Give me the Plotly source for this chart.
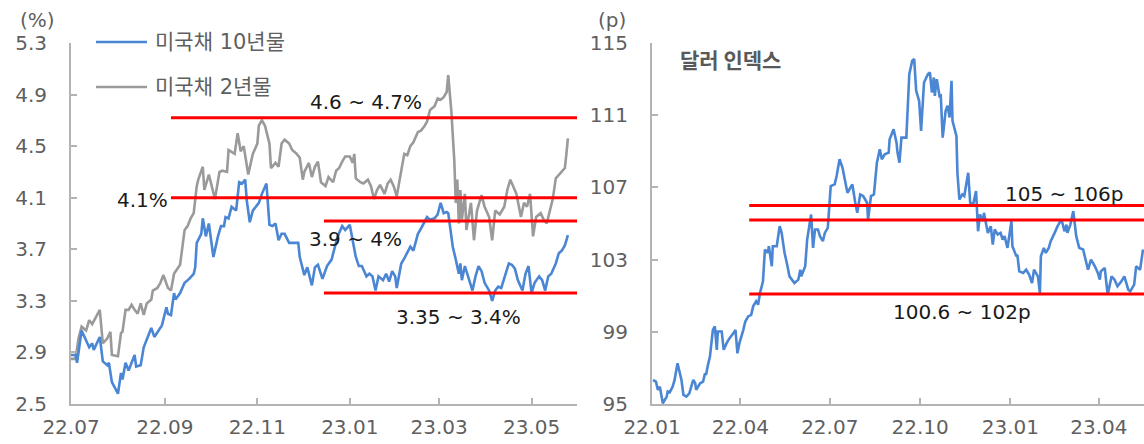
import plotly.graph_objects as go

W, H = 1144, 444

# 미국채 10년물 (%)
ust10_dates = [
    "2022-07-01", "2022-07-04", "2022-07-05", "2022-07-08", "2022-07-13", "2022-07-15",
    "2022-07-16", "2022-07-20", "2022-07-22", "2022-07-25", "2022-07-26", "2022-07-28",
    "2022-08-01", "2022-08-03", "2022-08-04", "2022-08-06", "2022-08-08", "2022-08-12",
    "2022-08-13", "2022-08-16", "2022-08-18", "2022-08-20", "2022-08-23", "2022-08-25",
    "2022-08-28", "2022-08-30", "2022-09-02", "2022-09-03", "2022-09-05", "2022-09-07",
    "2022-09-08", "2022-09-11", "2022-09-14", "2022-09-17", "2022-09-20", "2022-09-21",
    "2022-09-22", "2022-09-25", "2022-09-26", "2022-09-28", "2022-09-30", "2022-10-03",
    "2022-10-06", "2022-10-08", "2022-10-10", "2022-10-11", "2022-10-13", "2022-10-15",
    "2022-10-18", "2022-10-20", "2022-10-22", "2022-10-24", "2022-10-25", "2022-10-27",
    "2022-10-29", "2022-10-31", "2022-11-02", "2022-11-04", "2022-11-07", "2022-11-09",
    "2022-11-11", "2022-11-13", "2022-11-15", "2022-11-17", "2022-11-19", "2022-11-22",
    "2022-11-24", "2022-11-28", "2022-11-29", "2022-12-02", "2022-12-04", "2022-12-05",
    "2022-12-07", "2022-12-09", "2022-12-11", "2022-12-14", "2022-12-17", "2022-12-20",
    "2022-12-22", "2022-12-24", "2022-12-27", "2022-12-29", "2023-01-01", "2023-01-03",
    "2023-01-05", "2023-01-07", "2023-01-09", "2023-01-12", "2023-01-14", "2023-01-16",
    "2023-01-18", "2023-01-20", "2023-01-23", "2023-01-25", "2023-01-27", "2023-01-29",
    "2023-01-31", "2023-02-01", "2023-02-04", "2023-02-06", "2023-02-08", "2023-02-10",
    "2023-02-12", "2023-02-15", "2023-02-17", "2023-02-19", "2023-02-21", "2023-02-23",
    "2023-02-26", "2023-02-28", "2023-03-02", "2023-03-04", "2023-03-06", "2023-03-07",
    "2023-03-10", "2023-03-12", "2023-03-14", "2023-03-15", "2023-03-16", "2023-03-18",
    "2023-03-21", "2023-03-23", "2023-03-25", "2023-03-27", "2023-03-29", "2023-03-31",
    "2023-04-03", "2023-04-05", "2023-04-07", "2023-04-09", "2023-04-11", "2023-04-14",
    "2023-04-16", "2023-04-18", "2023-04-20", "2023-04-22", "2023-04-25", "2023-04-27",
    "2023-04-29", "2023-05-01", "2023-05-03", "2023-05-06", "2023-05-08", "2023-05-10",
    "2023-05-12", "2023-05-14", "2023-05-17", "2023-05-19", "2023-05-21", "2023-05-23",
    "2023-05-25",
]
ust10 = [
    2.88, 2.88, 2.82, 3.07, 2.94, 2.97,
    2.92, 3.02, 2.83, 2.80, 2.82, 2.67,
    2.58, 2.74, 2.69, 2.82, 2.76, 2.88,
    2.79, 2.80, 2.94, 3.00, 3.09, 3.02,
    3.07, 3.11, 3.25, 3.20, 3.19, 3.36,
    3.31, 3.36, 3.44, 3.47, 3.51, 3.56,
    3.75, 3.82, 3.94, 3.80, 3.90, 3.64,
    3.80, 3.88, 3.88, 3.95, 3.94, 4.03,
    4.00, 4.22, 4.21, 4.24, 4.08, 3.91,
    4.00, 4.03, 4.06, 4.13, 4.21, 3.89,
    3.88, 3.90, 3.77, 3.82, 3.82, 3.75,
    3.75, 3.75, 3.64, 3.50, 3.56, 3.51,
    3.42, 3.56, 3.58, 3.47, 3.57, 3.62,
    3.72, 3.80, 3.88, 3.85, 3.89, 3.77,
    3.64, 3.57, 3.57, 3.49, 3.51, 3.49,
    3.38, 3.49, 3.46, 3.51, 3.45, 3.53,
    3.49, 3.40, 3.59, 3.63, 3.67, 3.72,
    3.69, 3.82, 3.86, 3.90, 3.95, 3.93,
    3.94, 3.97, 4.06, 3.98, 3.99, 3.98,
    3.72, 3.62, 3.51, 3.59, 3.46, 3.57,
    3.46, 3.38, 3.49, 3.57, 3.53, 3.44,
    3.38, 3.30, 3.38, 3.41, 3.40, 3.51,
    3.59, 3.58, 3.55, 3.46, 3.38, 3.51,
    3.57, 3.36, 3.44, 3.49, 3.46, 3.38,
    3.49, 3.51, 3.59, 3.67, 3.69, 3.73,
    3.81,
]

# 미국채 2년물 (%)
ust2_dates = [
    "2022-07-01", "2022-07-04", "2022-07-06", "2022-07-08", "2022-07-11", "2022-07-13",
    "2022-07-15", "2022-07-17", "2022-07-20", "2022-07-22", "2022-07-25", "2022-07-27",
    "2022-07-28", "2022-08-01", "2022-08-03", "2022-08-04", "2022-08-06", "2022-08-08",
    "2022-08-10", "2022-08-12", "2022-08-14", "2022-08-16", "2022-08-18", "2022-08-20",
    "2022-08-23", "2022-08-24", "2022-08-27", "2022-08-29", "2022-08-31", "2022-09-03",
    "2022-09-05", "2022-09-07", "2022-09-09", "2022-09-11", "2022-09-14", "2022-09-16",
    "2022-09-18", "2022-09-20", "2022-09-22", "2022-09-23", "2022-09-26", "2022-09-27",
    "2022-09-30", "2022-10-02", "2022-10-04", "2022-10-07", "2022-10-09", "2022-10-12",
    "2022-10-13", "2022-10-17", "2022-10-19", "2022-10-21", "2022-10-23", "2022-10-26",
    "2022-10-29", "2022-11-01", "2022-11-02", "2022-11-04", "2022-11-06", "2022-11-09",
    "2022-11-10", "2022-11-13", "2022-11-15", "2022-11-17", "2022-11-19", "2022-11-22",
    "2022-11-24", "2022-11-27", "2022-11-29", "2022-12-01", "2022-12-02", "2022-12-05",
    "2022-12-07", "2022-12-09", "2022-12-11", "2022-12-13", "2022-12-16", "2022-12-18",
    "2022-12-21", "2022-12-23", "2022-12-25", "2022-12-27", "2022-12-29", "2023-01-01",
    "2023-01-03", "2023-01-04", "2023-01-05", "2023-01-08", "2023-01-10", "2023-01-13",
    "2023-01-15", "2023-01-17", "2023-01-19", "2023-01-21", "2023-01-24", "2023-01-26",
    "2023-01-28", "2023-01-30", "2023-02-01", "2023-02-04", "2023-02-06", "2023-02-08",
    "2023-02-10", "2023-02-12", "2023-02-15", "2023-02-17", "2023-02-19", "2023-02-21",
    "2023-02-23", "2023-02-26", "2023-02-28", "2023-03-02", "2023-03-04", "2023-03-06",
    "2023-03-07", "2023-03-09", "2023-03-11", "2023-03-12", "2023-03-13", "2023-03-14",
    "2023-03-15", "2023-03-16", "2023-03-18", "2023-03-19", "2023-03-22", "2023-03-24",
    "2023-03-26", "2023-03-29", "2023-03-31", "2023-04-03", "2023-04-05", "2023-04-07",
    "2023-04-10", "2023-04-13", "2023-04-15", "2023-04-17", "2023-04-19", "2023-04-21",
    "2023-04-24", "2023-04-26", "2023-04-28", "2023-04-30", "2023-05-02", "2023-05-04",
    "2023-05-07", "2023-05-09", "2023-05-11", "2023-05-13", "2023-05-15", "2023-05-17",
    "2023-05-20", "2023-05-23", "2023-05-24", "2023-05-25",
]
ust2 = [
    2.85, 2.85, 3.01, 3.10, 3.07, 3.15,
    3.12, 3.16, 3.23, 2.97, 3.01, 3.06,
    2.88, 2.87, 3.05, 3.06, 3.23, 3.23,
    3.27, 3.23, 3.20, 3.28, 3.19, 3.28,
    3.31, 3.38, 3.40, 3.44, 3.50, 3.40,
    3.38, 3.51, 3.55, 3.58, 3.85, 3.88,
    3.94, 3.98, 4.19, 4.24, 4.34, 4.16,
    4.28, 4.19, 4.09, 4.30, 4.31, 4.30,
    4.47, 4.44, 4.60, 4.46, 4.50, 4.28,
    4.44, 4.52, 4.66, 4.70, 4.66, 4.52,
    4.33, 4.37, 4.34, 4.52, 4.55, 4.52,
    4.47, 4.44, 4.41, 4.24, 4.30, 4.37,
    4.26, 4.34, 4.38, 4.22, 4.19, 4.26,
    4.22, 4.31, 4.33, 4.38, 4.42, 4.42,
    4.37, 4.44, 4.25, 4.22, 4.21, 4.24,
    4.19, 4.09, 4.16, 4.20, 4.13, 4.21,
    4.24, 4.19, 4.11, 4.31, 4.44, 4.43,
    4.50, 4.53, 4.61, 4.62, 4.65, 4.69,
    4.78, 4.81, 4.87, 4.86, 4.88, 4.92,
    5.05, 4.78, 4.39, 4.06, 4.24, 3.90,
    4.16, 3.93, 4.13, 3.85, 4.06, 3.77,
    4.00, 4.12, 4.03, 3.95, 3.77, 4.00,
    3.97, 4.03, 4.16, 4.24, 4.19, 4.13,
    3.95, 4.06, 4.03, 4.13, 3.80, 3.95,
    3.98, 3.93, 3.90, 4.00, 4.09, 4.25,
    4.29, 4.33, 4.44, 4.56,
]

# 달러 인덱스 (p)
dxy_dates = [
    "2022-01-02", "2022-01-05", "2022-01-07", "2022-01-09", "2022-01-12", "2022-01-16",
    "2022-01-17", "2022-01-19", "2022-01-22", "2022-01-24", "2022-01-27", "2022-01-29",
    "2022-01-31", "2022-02-02", "2022-02-05", "2022-02-08", "2022-02-12", "2022-02-14",
    "2022-02-15", "2022-02-19", "2022-02-22", "2022-02-24", "2022-02-25", "2022-02-27",
    "2022-03-01", "2022-03-04", "2022-03-06", "2022-03-08", "2022-03-09", "2022-03-13",
    "2022-03-15", "2022-03-18", "2022-03-21", "2022-03-25", "2022-03-27", "2022-03-29",
    "2022-03-31", "2022-04-04", "2022-04-06", "2022-04-09", "2022-04-12", "2022-04-14",
    "2022-04-17", "2022-04-19", "2022-04-21", "2022-04-24", "2022-04-26", "2022-04-29",
    "2022-04-30", "2022-05-03", "2022-05-04", "2022-05-08", "2022-05-11", "2022-05-13",
    "2022-05-16", "2022-05-19", "2022-05-21", "2022-05-26", "2022-05-30", "2022-06-01",
    "2022-06-02", "2022-06-06", "2022-06-08", "2022-06-12", "2022-06-14", "2022-06-16",
    "2022-06-19", "2022-06-21", "2022-06-24", "2022-06-26", "2022-06-29", "2022-07-02",
    "2022-07-06", "2022-07-08", "2022-07-11", "2022-07-14", "2022-07-16", "2022-07-19",
    "2022-07-22", "2022-07-24", "2022-07-27", "2022-07-29", "2022-08-01", "2022-08-04",
    "2022-08-08", "2022-08-09", "2022-08-12", "2022-08-15", "2022-08-18", "2022-08-21",
    "2022-08-23", "2022-08-26", "2022-08-30", "2022-08-31", "2022-09-04", "2022-09-07",
    "2022-09-08", "2022-09-10", "2022-09-12", "2022-09-17", "2022-09-20", "2022-09-23",
    "2022-09-25", "2022-09-27", "2022-09-30", "2022-10-02", "2022-10-05", "2022-10-09",
    "2022-10-11", "2022-10-13", "2022-10-15", "2022-10-16", "2022-10-18", "2022-10-21",
    "2022-10-22", "2022-10-24", "2022-10-27", "2022-10-29", "2022-10-31", "2022-11-02",
    "2022-11-03", "2022-11-07", "2022-11-08", "2022-11-10", "2022-11-13", "2022-11-15",
    "2022-11-19", "2022-11-21", "2022-11-24", "2022-11-27", "2022-11-29", "2022-12-01",
    "2022-12-04", "2022-12-05", "2022-12-09", "2022-12-12", "2022-12-14", "2022-12-16",
    "2022-12-19", "2022-12-22", "2022-12-24", "2022-12-26", "2022-12-29", "2023-01-02",
    "2023-01-03", "2023-01-07", "2023-01-08", "2023-01-10", "2023-01-14", "2023-01-17",
    "2023-01-20", "2023-01-23", "2023-01-25", "2023-01-29", "2023-01-31", "2023-02-01",
    "2023-02-04", "2023-02-06", "2023-02-09", "2023-02-11", "2023-02-15", "2023-02-18",
    "2023-02-22", "2023-02-25", "2023-02-27", "2023-02-28", "2023-03-03", "2023-03-06",
    "2023-03-09", "2023-03-12", "2023-03-16", "2023-03-19", "2023-03-21", "2023-03-24",
    "2023-03-28", "2023-03-31", "2023-04-02", "2023-04-03", "2023-04-07", "2023-04-10",
    "2023-04-14", "2023-04-17", "2023-04-20", "2023-04-24", "2023-04-27", "2023-05-01",
    "2023-05-03", "2023-05-07", "2023-05-09", "2023-05-13", "2023-05-16",
]
dxy = [
    96.33, 96.24, 95.78, 95.96, 95.04, 95.41,
    95.69, 95.65, 95.96, 96.33, 97.26, 96.70,
    96.33, 95.50, 95.41, 95.59, 96.33, 96.15,
    95.78, 96.15, 96.24, 96.70, 96.61, 97.17,
    97.63, 99.11, 99.30, 98.00, 99.02, 99.02,
    98.00, 98.37, 98.65, 98.93, 99.11, 97.81,
    98.37, 99.11, 99.57, 99.85, 99.94, 100.41,
    100.69, 100.50, 101.15, 101.80, 103.56, 103.37,
    103.74, 102.63, 103.74, 103.74, 104.85, 104.48,
    103.37, 102.63, 102.07, 101.70, 101.89, 102.44,
    102.07, 102.63, 104.11, 105.50, 103.65, 104.67,
    104.67, 104.30, 104.02, 104.48, 104.76, 107.07,
    107.17, 107.63, 108.56, 108.09, 107.44, 106.70,
    106.98, 107.17, 106.15, 105.59, 106.61, 106.52,
    106.15, 105.22, 106.52, 106.61, 108.37, 109.11,
    108.56, 108.83, 108.93, 109.67, 110.22, 109.48,
    108.93, 108.37, 109.76, 109.76, 113.28, 114.02,
    114.11, 112.35, 111.80, 110.13, 112.81, 113.28,
    113.37, 112.26, 113.09, 112.07, 113.00, 111.98,
    112.17, 109.76, 111.24, 111.52, 110.87, 112.91,
    110.69, 109.85, 107.81, 106.33, 106.61, 106.52,
    107.81, 106.15, 106.06, 106.80, 104.57, 105.50,
    105.13, 105.59, 104.48, 104.85, 103.83, 104.67,
    104.39, 104.48, 104.11, 104.30, 103.65, 105.13,
    103.74, 103.19, 103.28, 102.35, 102.26, 102.44,
    102.17, 101.70, 102.44, 102.07, 101.15, 103.19,
    103.65, 103.37, 103.65, 104.02, 104.48, 104.85,
    105.22, 104.57, 104.94, 104.48, 104.94, 105.69,
    104.30, 103.65, 103.56, 102.91, 102.44, 103.00,
    102.63, 102.26, 101.89, 102.35, 102.54, 101.06,
    102.07, 101.89, 101.52, 101.80, 102.07, 101.33,
    101.24, 101.61, 102.63, 102.44, 103.56,
]

# 박스권 기준선
yield_levels = [4.72, 4.10, 3.92, 3.36]
yield_level_starts = ["2022-09-05", "2022-09-05", "2022-12-15", "2022-12-15"]
dxy_levels = [106.0, 105.2, 101.1]
dxy_level_start = "2022-04-10"

left_range = ["2022-07-01", "2023-05-31"]
right_range = ["2022-01-01", "2023-05-17"]
y1_ticks = [2.5, 2.9, 3.3, 3.7, 4.1, 4.5, 4.9, 5.3]
y2_ticks = [95, 99, 103, 107, 111, 115]

BLUE = "#4a86d4"
GRAY = "#9a9a9a"
RED = "#ff0000"
AXIS = "#b3b3b3"
TICK_TXT = "#5f5f5f"
FONT = "DejaVu Sans, Noto Sans CJK KR, sans-serif"
KR_FONT = "Noto Sans CJK KR, sans-serif"


def fx(px):
    return px / W


def fy(py):
    return 1 - py / H


fig = go.Figure()

fig.add_trace(go.Scatter(x=ust2_dates, y=ust2, mode="lines", name="미국채 2년물",
                         line=dict(color=GRAY, width=2.6), xaxis="x", yaxis="y"))
fig.add_trace(go.Scatter(x=ust10_dates, y=ust10, mode="lines", name="미국채 10년물",
                         line=dict(color=BLUE, width=2.6), xaxis="x", yaxis="y"))
fig.add_trace(go.Scatter(x=dxy_dates, y=dxy, mode="lines", name="달러 인덱스",
                         line=dict(color=BLUE, width=2.6), xaxis="x2", yaxis="y2"))

for lvl, start in zip(yield_levels, yield_level_starts):
    fig.add_trace(go.Scatter(x=[start, left_range[1]], y=[lvl, lvl], mode="lines",
                             line=dict(color=RED, width=3), hoverinfo="skip",
                             xaxis="x", yaxis="y"))
for lvl in dxy_levels:
    fig.add_trace(go.Scatter(x=[dxy_level_start, right_range[1]], y=[lvl, lvl], mode="lines",
                             line=dict(color=RED, width=3), hoverinfo="skip",
                             xaxis="x2", yaxis="y2"))

ydom = [fy(404), fy(43)]
common_x = dict(type="date", showgrid=False, zeroline=False, showline=True,
                linecolor=AXIS, linewidth=2, ticks="inside", ticklen=6,
                tickcolor=AXIS, tickwidth=1.5, tickformat="%y.%m",
                tickfont=dict(family=FONT, size=20, color=TICK_TXT),
                ticklabelstandoff=4, automargin=False)
common_y = dict(showgrid=False, zeroline=False, showline=True, linecolor=AXIS,
                linewidth=2, ticks="inside", ticklen=6, tickcolor=AXIS, tickwidth=1.5,
                tickfont=dict(family=FONT, size=20, color=TICK_TXT),
                ticklabelstandoff=18, domain=ydom, automargin=False)

fig.update_layout(
    width=W, height=H,
    margin=dict(l=0, r=0, t=0, b=0),
    paper_bgcolor="white", plot_bgcolor="white",
    showlegend=False,
    font=dict(family=FONT),
    xaxis=dict(common_x, domain=[fx(71), fx(577)], range=left_range,
               tick0="2022-07-01", dtick="M2", anchor="y"),
    yaxis=dict(common_y, range=[2.5, 5.3], tickvals=y1_ticks,
               ticktext=[f"{v:.1f}" for v in y1_ticks], anchor="x"),
    xaxis2=dict(common_x, domain=[fx(652), fx(1144)], range=right_range,
                tick0="2022-01-01", dtick="M3", anchor="y2"),
    yaxis2=dict(common_y, range=[95, 115], tickvals=y2_ticks, anchor="x2"),
)

# 범례
legend_items = [("미국채 10년물", BLUE, 42), ("미국채 2년물", GRAY, 87)]
for label, color, ly in legend_items:
    fig.add_shape(type="line", xref="paper", yref="paper",
                  x0=fx(96), x1=fx(147), y0=fy(ly), y1=fy(ly),
                  line=dict(color=color, width=2.6))
    fig.add_annotation(text=label, xref="paper", yref="paper", x=fx(153), y=fy(ly),
                       xanchor="left", yanchor="middle", showarrow=False,
                       font=dict(family=FONT, size=21, color=TICK_TXT))

# 단위, 제목, 구간 라벨
labels = [
    ("(%)", 18, 20, "left", TICK_TXT, FONT, 20),
    ("(p)", 596, 20, "left", TICK_TXT, FONT, 20),
    ("<b>달러 인덱스</b>", 678, 59, "left", "#595959", KR_FONT, 21),
    ("4.6 ~ 4.7%", 308, 102, "left", "#1a1a1a", FONT, 20),
    ("4.1%", 170, 200, "right", "#1a1a1a", FONT, 20),
    ("3.9 ~ 4%", 307, 239, "left", "#1a1a1a", FONT, 20),
    ("3.35 ~ 3.4%", 394, 317, "left", "#1a1a1a", FONT, 20),
    ("105 ~ 106p", 1003, 194, "left", "#1a1a1a", FONT, 20),
    ("100.6 ~ 102p", 891, 312, "left", "#1a1a1a", FONT, 20),
]
for text, x, y, anchor, color, family, size in labels:
    fig.add_annotation(text=text, xref="paper", yref="paper", x=fx(x), y=fy(y),
                       xanchor=anchor, yanchor="middle", showarrow=False,
                       font=dict(family=family, size=size, color=color))

fig.write_html("out.html")
